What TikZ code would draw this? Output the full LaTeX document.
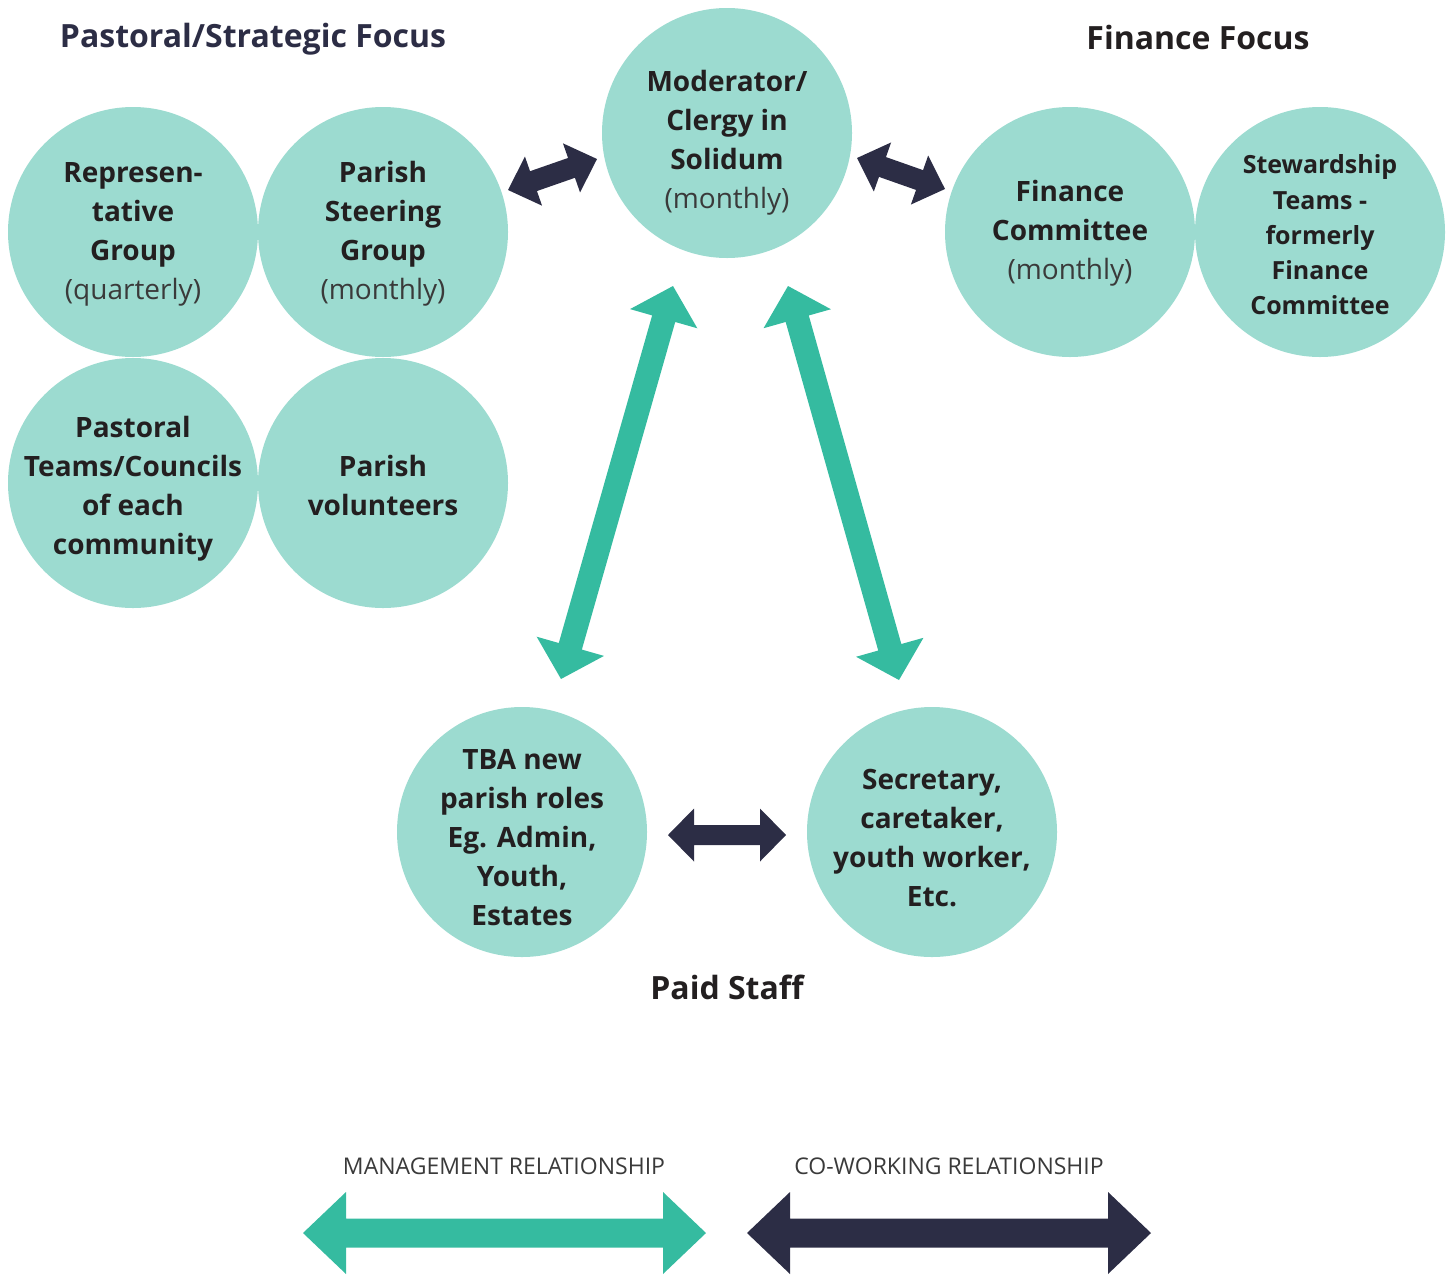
\documentclass[tikz,border=0pt]{standalone}
\usepackage{fontspec}
\setmainfont{Open Sans}
\usetikzlibrary{calc}
\definecolor{discfill}{HTML}{9CDBD0}
\definecolor{tealarrow}{HTML}{35BBA0}
\definecolor{navy}{HTML}{2C2D45}
\definecolor{ink}{HTML}{231F20}
\definecolor{lightink}{HTML}{3A3A3A}
% #1 start, #2 end, #3 colour, #4 shaft half width, #5 head half width, #6 head length
\newcommand\blockarrow[6]{%
  \coordinate (ba1) at ($(#1)!#6!(#2)$);
  \coordinate (ba2) at ($(#2)!#6!(#1)$);
  \fill[#3] (#1) -- ($(ba1)!#5!90:(#2)$) -- ($(ba1)!#4!90:(#2)$)
    -- ($(ba2)!#4!-90:(#1)$) -- ($(ba2)!#5!-90:(#1)$) -- (#2)
    -- ($(ba2)!#5!90:(#1)$) -- ($(ba2)!#4!90:(#1)$)
    -- ($(ba1)!#4!-90:(#2)$) -- ($(ba1)!#5!-90:(#2)$) -- cycle;
}
\begin{document}
\begin{tikzpicture}[x=1pt,y=-1pt,
  discnode/.style={circle, fill=discfill, minimum size=250pt, inner sep=0pt},
  ctext/.style={align=center, text=ink, inner sep=0pt, font=\fontsize{28}{39}\selectfont\bfseries},
  stext/.style={align=center, text=ink, inner sep=0pt, font=\fontsize{25}{35.3}\selectfont\bfseries},
  titletext/.style={inner sep=0pt, font=\fontsize{32}{38}\selectfont\bfseries},
  legendtext/.style={inner sep=0pt, text=lightink, font=\fontsize{23}{27}\selectfont}]
\newcommand\lt[1]{{\mdseries\color{lightink}#1}}
\useasboundingbox (0,0) rectangle (1456,1275);

% circles
\node[discnode] (rep)  at (133,232) {};
\node[discnode] (psg)  at (383,232) {};
\node[discnode] (past) at (133,483) {};
\node[discnode] (vol)  at (383,483) {};
\node[discnode] (mod)  at (727,133) {};
\node[discnode] (fin)  at (1070,232) {};
\node[discnode] (stew) at (1320,232) {};
\node[discnode] (tba)  at (522,832) {};
\node[discnode] (sec)  at (932,832) {};

% circle texts
\node[ctext] (rept) at (133,234) {Represen-\\tative\\Group\\\lt{(quarterly)}};
\node[ctext] (psgt) at (383,234) {Parish\\Steering\\Group\\\lt{(monthly)}};
\node[ctext] (pastt) at (133,489) {Pastoral\\Teams/Councils\\of each\\community};
\node[ctext] (volt) at (383,485) {Parish\\volunteers};
\node[ctext] (modt) at (727,143) {Moderator/\\Clergy in\\Solidum\\\lt{(monthly)}};
\node[ctext] (fint) at (1070,233) {Finance\\Committee\\\lt{(monthly)}};
\node[stext] (stewt) at (1320,235) {Stewardship\\Teams -\\formerly\\Finance\\Committee};
\node[ctext] (tbat) at (522,838) {TBA new\\parish roles\\Eg. Admin,\\Youth,\\Estates};
\node[ctext] (sect) at (932,838) {Secretary,\\caretaker,\\youth worker,\\Etc.};

% titles
\node[titletext, text=navy] (ttl1) at (253,39) {Pastoral/Strategic Focus};
\node[titletext, text=ink] (ttl2) at (1198,37) {Finance Focus};
\node[titletext, text=ink] (ttl3) at (727,987) {Paid Staff};

% connector end points
\coordinate (psgR) at (508,190);
\coordinate (modL) at (597,159);
\coordinate (modR) at (857,158);
\coordinate (finL) at (945,189);
\coordinate (modBL) at (673,286);
\coordinate (tbaT) at (561,679);
\coordinate (modBR) at (788,286);
\coordinate (secT) at (899,680);
\coordinate (tbaR) at (668,835);
\coordinate (secL) at (786,835);

\blockarrow{psgR}{modL}{navy}{10.5pt}{26pt}{27pt}
\blockarrow{modR}{finL}{navy}{10.5pt}{26pt}{27pt}
\blockarrow{tbaR}{secL}{navy}{10pt}{26.5pt}{26pt}
\blockarrow{modBL}{tbaT}{tealarrow}{12pt}{35pt}{34pt}
\blockarrow{modBR}{secT}{tealarrow}{12pt}{35pt}{34pt}

% legend
\node[legendtext] (lg1) at (504,1166) {MANAGEMENT RELATIONSHIP};
\node[legendtext] (lg2) at (949,1166) {CO-WORKING RELATIONSHIP};
\coordinate (lgAL) at (303,1233);
\coordinate (lgAR) at (706,1233);
\coordinate (lgBL) at (747,1233);
\coordinate (lgBR) at (1151,1233);
\blockarrow{lgAL}{lgAR}{tealarrow}{14.5pt}{41pt}{43pt}
\blockarrow{lgBL}{lgBR}{navy}{14.5pt}{41pt}{43pt}
\end{tikzpicture}
\end{document}
